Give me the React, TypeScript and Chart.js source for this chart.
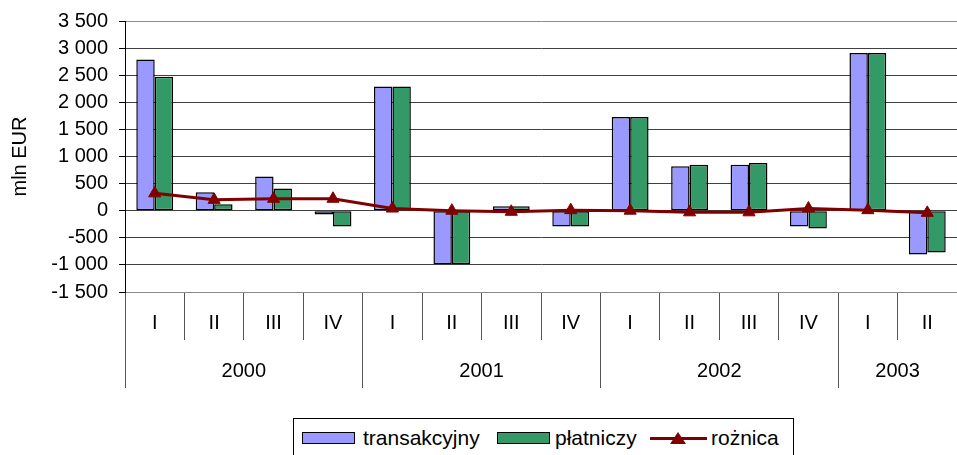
import React, { useEffect, useRef } from 'react';
import { Chart, registerables } from 'chart.js';

Chart.register(...registerables);

const quarters = ['I', 'II', 'III', 'IV', 'I', 'II', 'III', 'IV', 'I', 'II', 'III', 'IV', 'I', 'II'];
const years = ['2000', '2001', '2002', '2003'];
const yearSpans = [4, 4, 4, 2];
const transakcyjny = [2790, 340, 630, -70, 2290, -990, 80, -290, 1730, 820, 850, -290, 2910, -810];
const platniczy = [2470, 120, 410, -290, 2290, -990, 80, -290, 1730, 850, 880, -330, 2910, -770];
const roznica = [320, 200, 220, 220, 40, 0, -20, 10, 0, -30, -30, 40, 10, -40];
const yMin = -1500;
const yMax = 3500;
const yStep = 500;
const seriesNames = ['transakcyjny', 'płatniczy', 'rożnica'];

const FONT = "'Liberation Sans', Arial, Helvetica, sans-serif";

const boundaries: number[] = [0];
yearSpans.forEach((s) => boundaries.push(boundaries[boundaries.length - 1] + s));
const centers = yearSpans.map((s, i) => boundaries[i] + s / 2);
const total = boundaries[boundaries.length - 1];

function fmt(v: number): string {
  const s = Math.abs(v).toString().replace(/\B(?=(\d{3})+(?!\d))/g, ' ');
  return (v < 0 ? '-' : '') + s;
}

export default function App() {
  const ref = useRef<HTMLCanvasElement>(null);

  useEffect(() => {
    if (!ref.current) return;
    const chart = new Chart(ref.current, {
      type: 'bar',
      data: {
        labels: quarters,
        datasets: [
          {
            type: 'line',
            label: seriesNames[2],
            data: roznica,
            borderColor: '#800000',
            backgroundColor: '#800000',
            borderWidth: 3,
            pointStyle: 'triangle',
            pointRadius: 7,
            pointBackgroundColor: '#800000',
            pointBorderColor: '#800000',
            pointBorderWidth: 1,
            order: 0,
            tension: 0,
          } as any,
          {
            type: 'bar',
            label: seriesNames[0],
            data: transakcyjny,
            backgroundColor: '#9999FF',
            borderColor: '#000000',
            borderWidth: 1.5,
            borderSkipped: false,
            barPercentage: 1,
            categoryPercentage: 0.62,
            order: 1,
          } as any,
          {
            type: 'bar',
            label: seriesNames[1],
            data: platniczy,
            backgroundColor: '#339966',
            borderColor: '#000000',
            borderWidth: 1.5,
            borderSkipped: false,
            barPercentage: 1,
            categoryPercentage: 0.62,
            order: 1,
          } as any,
        ],
      },
      options: {
        responsive: false,
        animation: false,
        devicePixelRatio: 1,
        layout: { autoPadding: false, padding: { top: 21, left: 0, right: 0, bottom: 67 } },
        plugins: { legend: { display: false }, tooltip: { enabled: false } },
        scales: {
          x: {
            type: 'category',
            position: 'bottom',
            weight: 0,
            offset: true,
            grid: {
              offset: true,
              drawOnChartArea: false,
              drawTicks: true,
              tickLength: 48,
              color: '#555555',
              lineWidth: 1,
            },
            border: { display: true, color: '#8c8c8c', width: 1 },
            ticks: {
              autoSkip: false,
              maxRotation: 0,
              minRotation: 0,
              padding: -29,
              color: '#000',
              font: { family: FONT, size: 20 },
            },
            afterFit: (s: any) => {
              s.height = 48;
            },
          },
          x2: {
            type: 'linear',
            position: 'bottom',
            weight: 1,
            min: 0,
            max: total,
            offset: false,
            grid: {
              offset: false,
              drawOnChartArea: false,
              drawTicks: true,
              tickLength: 48,
              lineWidth: 1,
              color: (ctx: any) =>
                ctx.tick && boundaries.includes(ctx.tick.value) ? '#555555' : 'rgba(0,0,0,0)',
            },
            border: { display: false },
            ticks: {
              autoSkip: false,
              maxRotation: 0,
              minRotation: 0,
              padding: -29,
              color: '#000',
              font: { family: FONT, size: 20 },
              callback: (v: any) => {
                const i = centers.indexOf(Number(v));
                return i >= 0 ? years[i] : '';
              },
            },
            afterBuildTicks: (s: any) => {
              s.ticks = [...boundaries, ...centers].sort((a, b) => a - b).map((v) => ({ value: v }));
            },
            afterFit: (s: any) => {
              s.height = 48;
            },
          },
          y: {
            type: 'linear',
            min: yMin,
            max: yMax,
            ticks: {
              stepSize: yStep,
              autoSkip: false,
              padding: 11,
              color: '#000',
              font: { family: FONT, size: 20, lineHeight: 1 },
              callback: (v: any) => fmt(Number(v)),
            },
            grid: {
              color: (ctx: any) =>
                ctx.tick && (ctx.tick.value === yMax || ctx.tick.value === yMin) ? '#8c8c8c' : '#404040',
              lineWidth: 1,
              tickLength: 6,
              tickColor: '#000',
            },
            border: { display: true, color: '#000', width: 1 },
            title: {
              display: true,
              text: 'mln EUR',
              color: '#000',
              font: { family: FONT, size: 20 },
              padding: { top: 8, bottom: 0 },
            },
            afterFit: (s: any) => {
              s.width = 125;
            },
          },
        } as any,
      },
    });
    return () => chart.destroy();
  }, []);

  const textStyle: React.CSSProperties = {
    position: 'absolute',
    top: 7.5,
    lineHeight: '21px',
    fontSize: 21,
    whiteSpace: 'nowrap',
    color: '#000',
  };
  const swatch = (left: number, color: string): React.CSSProperties => ({
    position: 'absolute',
    left,
    top: 13,
    width: 53,
    height: 12,
    background: color,
    border: '1.5px solid #000',
    boxSizing: 'border-box',
  });

  return (
    <div
      style={{
        position: 'fixed',
        left: 0,
        top: 0,
        width: 957,
        height: 455,
        background: '#fff',
        overflow: 'hidden',
      }}
    >
      <canvas ref={ref} width={957} height={455} style={{ display: 'block', width: 957, height: 455 }} />
      <div
        style={{
          position: 'absolute',
          left: 293,
          top: 418,
          width: 501,
          height: 45,
          border: '1px solid #000',
          boxSizing: 'border-box',
          fontFamily: FONT,
          background: '#fff',
        }}
      >
        <div style={swatch(8, '#9999FF')} />
        <div style={{ ...textStyle, left: 69 }}>{seriesNames[0]}</div>
        <div style={swatch(203, '#339966')} />
        <div style={{ ...textStyle, left: 261 }}>{seriesNames[1]}</div>
        <div
          style={{ position: 'absolute', left: 356, top: 17.5, width: 57, height: 3, background: '#800000' }}
        />
        <div
          style={{
            position: 'absolute',
            left: 376,
            top: 13,
            width: 0,
            height: 0,
            borderLeft: '8px solid transparent',
            borderRight: '8px solid transparent',
            borderBottom: '12px solid #800000',
          }}
        />
        <div style={{ ...textStyle, left: 417 }}>{seriesNames[2]}</div>
      </div>
    </div>
  );
}
